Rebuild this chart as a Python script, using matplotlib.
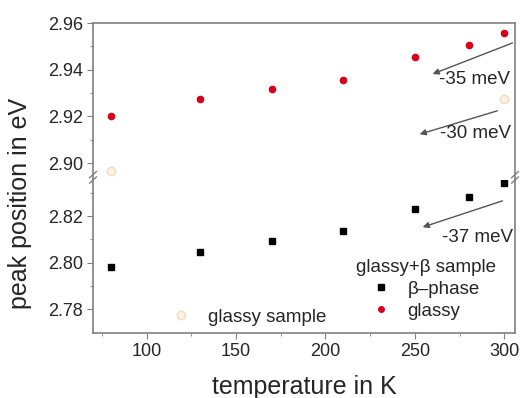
import matplotlib.pyplot as plt
from matplotlib.lines import Line2D
from matplotlib.patches import FancyArrowPatch

plt.rcParams['font.family'] = ['Liberation Sans', 'DejaVu Sans']

temp = [80, 130, 170, 210, 250, 280, 300]
glassy = [2.920, 2.9275, 2.9317, 2.9356, 2.9456, 2.9506, 2.9557]
beta = [2.7979, 2.8045, 2.8092, 2.8135, 2.823, 2.8282, 2.8342]
temp_gs = [80, 300]
glassy_sample = [2.8966, 2.9275]

txt = '#262626'
spine = '#808080'
red = '#d9001b'
pale = '#f6d2ad'

W, H = 523, 398
fig = plt.figure(figsize=(5.23, 3.98), dpi=100)
L, R, T, B, BRK = 93, 515, 23, 333, 180
ax_top = fig.add_axes([L / W, 1 - BRK / H, (R - L) / W, (BRK - T) / H])
ax_bot = fig.add_axes([L / W, 1 - B / H, (R - L) / W, (B - BRK) / H], sharex=ax_top)

for ax in (ax_top, ax_bot):
    ax.plot(temp, glassy, 'o', color=red, ms=4.5, mec=red)
    ax.plot(temp, beta, 's', color='black', ms=4.5)
    ax.plot(temp_gs, glassy_sample, 'o', color=pale, ms=6, mfc='#fcefe2', mec=pale, alpha=0.8)
    for s in ax.spines.values():
        s.set_color(spine)
        s.set_linewidth(1.2)
    ax.tick_params(axis='both', which='both', direction='out', colors=spine,
                   labelcolor=txt, labelsize=13, right=False, top=False, pad=3)
    ax.tick_params(which='major', length=4)
    ax.tick_params(which='minor', length=2.5)

ax_top.set_ylim(2.8928, 2.96)
ax_bot.set_ylim(2.7697, 2.8355)
ax_top.set_xlim(70, 306)
ax_top.set_yticks([2.90, 2.92, 2.94, 2.96])
ax_top.set_yticks([2.91, 2.93, 2.95], minor=True)
ax_bot.set_yticks([2.78, 2.80, 2.82])
ax_bot.set_yticks([2.79, 2.81, 2.83], minor=True)
ax_bot.set_xticks([100, 150, 200, 250, 300])
ax_bot.set_xticks([75, 125, 175, 225, 275], minor=True)
ax_top.spines['bottom'].set_visible(False)
ax_bot.spines['top'].set_visible(False)
ax_top.tick_params(axis='x', which='both', bottom=False, labelbottom=False)

# break marks
for x0 in (0, 1):
    for dy in (0.0, 0.035):
        ax_bot.plot([x0 - 0.008, x0 + 0.008], [1 - 0.02 + dy, 1 + 0.02 + dy],
                    transform=ax_bot.transAxes, color=spine, lw=1, clip_on=False)

fig.text(304 / W, 1 - 387 / H, 'temperature in K', fontsize=18, color=txt,
         ha='center', va='center')
fig.text(20 / W, 1 - 203 / H, 'peak position in eV', rotation=90, fontsize=18,
         color=txt, ha='center', va='center')

# arrows
arrows = [((515, 42), (430, 75), '-35 meV', (474, 80)),
          ((500, 110), (417, 135), '-30 meV', (475, 134)),
          ((505, 200), (420, 228), '-37 meV', (478, 238))]
for tail, head, label, pos in arrows:
    fig.add_artist(FancyArrowPatch(
        (tail[0] / W, 1 - tail[1] / H), (head[0] / W, 1 - head[1] / H),
        transform=fig.transFigure, arrowstyle='-|>', mutation_scale=9,
        color='#555555', lw=1))
    fig.text(pos[0] / W, 1 - pos[1] / H, label, fontsize=13.5, color=txt,
             ha='center', va='center')

h_gs = Line2D([], [], ls='none', marker='o', ms=6, mfc='#fcefe2', mec=pale, alpha=0.8)
leg1 = ax_bot.legend([h_gs], ['glassy sample'], loc='center left',
                     bbox_to_anchor=((172 - L) / (R - L), (B - 317) / (B - BRK)),
                     frameon=False, fontsize=13.5, handlelength=1.0, handletextpad=0.9,
                     borderpad=0, borderaxespad=0)
for t in leg1.get_texts():
    t.set_color(txt)
ax_bot.add_artist(leg1)

h_b = Line2D([], [], ls='none', marker='s', ms=4, color='black')
h_g = Line2D([], [], ls='none', marker='o', ms=4, color=red)
leg2 = ax_bot.legend([h_b, h_g], ['\u03b2\u2013phase', 'glassy'], title='glassy+\u03b2 sample',
                     loc='upper left',
                     bbox_to_anchor=((356 - L) / (R - L), (B - 259) / (B - BRK)),
                     frameon=False, fontsize=13.5, title_fontsize=13.5,
                     handlelength=1.0, handletextpad=0.9, borderpad=0,
                     borderaxespad=0, labelspacing=0.25)
leg2.get_title().set_color(txt)
for t in leg2.get_texts():
    t.set_color(txt)

fig.savefig('out.png', dpi=100)
